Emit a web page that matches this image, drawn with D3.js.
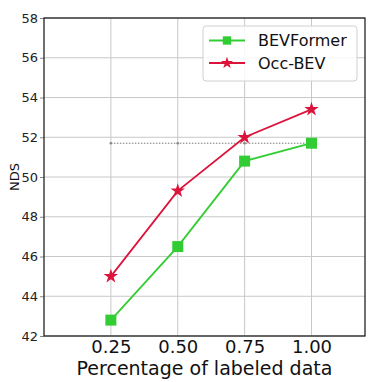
<!DOCTYPE html>
<html>
<head>
<meta charset="utf-8">
<script src="https://cdn.jsdelivr.net/npm/d3@7"></script>
<style>
  body { margin: 0; background: #fff; }
  text { font-family: "DejaVu Sans", sans-serif; }
</style>
</head>
<body>
<div id="app"></div>
<script>
const fractions = [0.25, 0.5, 0.75, 1.0];
const xTickLabels = ["0.25", "0.50", "0.75", "1.00"];
const yTicks = [42, 44, 46, 48, 50, 52, 54, 56, 58];
const bevformer = [42.8, 46.5, 50.8, 51.7];
const occBev = [45.0, 49.3, 52.0, 53.4];
const refLevel = 51.7;

const series = [
  { name: "BEVFormer", values: bevformer, color: "#32cd32", marker: "square" },
  { name: "Occ-BEV", values: occBev, color: "#dc143c", marker: "star" }
];

const width = 375, height = 382;
const margin = { top: 18, right: 10, bottom: 46, left: 44 };

const svg = d3.select("#app").append("svg")
  .attr("width", width)
  .attr("height", height);

const x = d3.scaleLinear().domain([0, 1.2]).range([margin.left, width - margin.right]);
const y = d3.scaleLinear().domain([42, 58]).range([height - margin.bottom, margin.top]);

// grid
const grid = svg.append("g").attr("stroke", "#c8c8c8").attr("stroke-width", 1);
grid.selectAll("line.v").data(fractions).join("line")
  .attr("x1", d => x(d)).attr("x2", d => x(d))
  .attr("y1", y(42)).attr("y2", y(58));
grid.selectAll("line.h").data(yTicks).join("line")
  .attr("x1", x(0)).attr("x2", x(1.2))
  .attr("y1", d => y(d)).attr("y2", d => y(d));

// axes
const yAxis = svg.append("g")
  .attr("transform", `translate(${margin.left},0)`)
  .call(d3.axisLeft(y).tickValues(yTicks).tickSize(4).tickPadding(2));
yAxis.select(".domain").remove();
yAxis.selectAll(".tick line").attr("stroke", "#888");
yAxis.selectAll("text").attr("font-size", 13).attr("fill", "#222");

const xAxis = svg.append("g")
  .attr("transform", `translate(0,${height - margin.bottom})`)
  .call(d3.axisBottom(x).tickValues(fractions).tickFormat((d, i) => xTickLabels[i]).tickSize(0).tickPadding(4));
xAxis.select(".domain").remove();
xAxis.selectAll("text").attr("font-size", 18).attr("fill", "#111");

// frame
svg.append("rect")
  .attr("x", x(0)).attr("y", y(58))
  .attr("width", x(1.2) - x(0)).attr("height", y(42) - y(58))
  .attr("fill", "none").attr("stroke", "#111").attr("stroke-width", 1.2);

// axis titles
svg.append("text")
  .attr("x", (x(0) + x(1.2)) / 2).attr("y", height - 7)
  .attr("text-anchor", "middle").attr("font-size", 19).attr("fill", "#111")
  .text("Percentage of labeled data");
svg.append("text")
  .attr("transform", `translate(19,${(y(42) + y(58)) / 2}) rotate(-90)`)
  .attr("text-anchor", "middle").attr("font-size", 13).attr("fill", "#111")
  .text("NDS");

// reference dotted line
svg.append("line")
  .attr("x1", x(0.25)).attr("x2", x(1.0))
  .attr("y1", y(refLevel)).attr("y2", y(refLevel))
  .attr("stroke", "#777").attr("stroke-width", 1).attr("stroke-dasharray", "1.5,1.5");
svg.append("g").selectAll("circle").data(fractions).join("circle")
  .attr("cx", d => x(d)).attr("cy", y(refLevel)).attr("r", 1.3).attr("fill", "#888");

const line = d3.line().x((d, i) => x(fractions[i])).y(d => y(d));
const starPath = d3.symbol().type(d3.symbolStar).size(65)();
const squarePath = d3.symbol().type(d3.symbolSquare).size(121)();

series.forEach(s => {
  const g = svg.append("g");
  g.append("path").datum(s.values)
    .attr("d", line).attr("fill", "none")
    .attr("stroke", s.color).attr("stroke-width", 1.8);
  g.selectAll("path.m").data(s.values).join("path")
    .attr("class", "m")
    .attr("transform", (d, i) => `translate(${x(fractions[i])},${y(d)})`)
    .attr("d", s.marker === "star" ? starPath : squarePath)
    .attr("fill", s.color);
});

// legend
const lg = svg.append("g");
lg.append("rect")
  .attr("x", 203).attr("y", 26).attr("width", 154).attr("height", 55).attr("rx", 3)
  .attr("fill", "#fff").attr("fill-opacity", 0.85).attr("stroke", "#d0d0d0");
series.forEach((s, i) => {
  const cy = 40.5 + i * 22.5;
  lg.append("line").attr("x1", 209).attr("x2", 245).attr("y1", cy).attr("y2", cy)
    .attr("stroke", s.color).attr("stroke-width", 1.8);
  lg.append("path")
    .attr("transform", `translate(227,${cy})`)
    .attr("d", s.marker === "star" ? d3.symbol().type(d3.symbolStar).size(45)() : d3.symbol().type(d3.symbolSquare).size(70)())
    .attr("fill", s.color);
  lg.append("text").attr("x", 258).attr("y", cy).attr("dy", "0.35em")
    .attr("font-size", 16).attr("fill", "#111").text(s.name);
});
</script>
</body>
</html>
